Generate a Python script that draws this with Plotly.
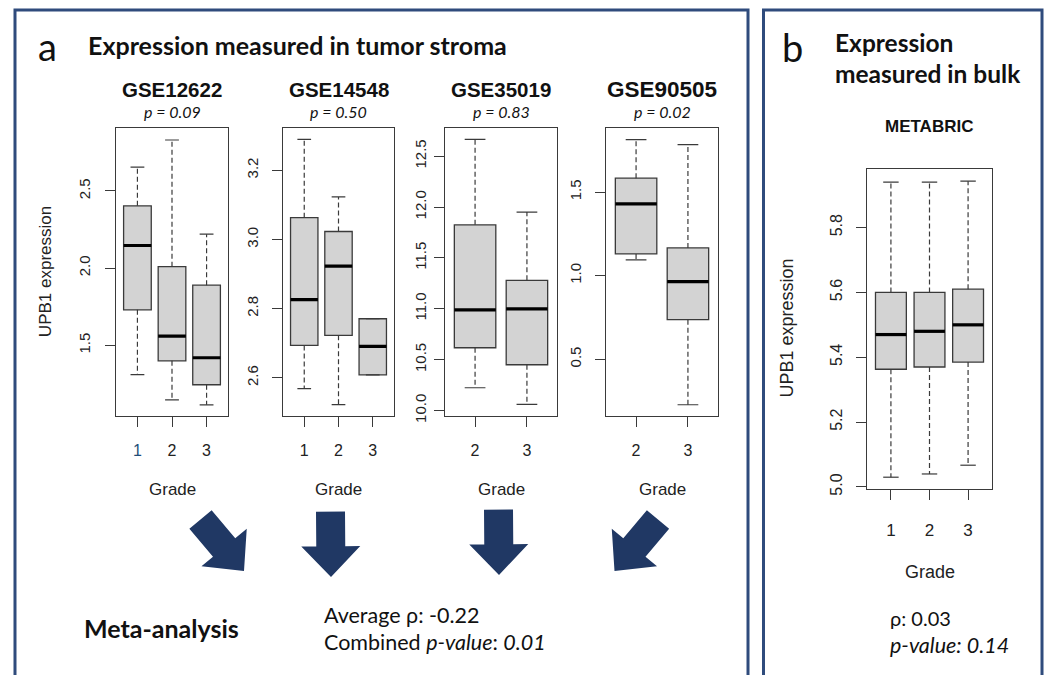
import plotly.graph_objects as go

W, H = 1046, 675

# ---------------- data ----------------
datasets = ["GSE12622", "GSE14548", "GSE35019", "GSE90505"]
pvals = ["0.09", "0.50", "0.83", "0.02"]
grades_a = [["1", "2", "3"], ["1", "2", "3"], ["2", "3"], ["2", "3"]]

gse12622_low = [1.31, 1.147, 1.115]
gse12622_q1 = [1.73, 1.40, 1.245]
gse12622_med = [2.147, 1.56, 1.42]
gse12622_q3 = [2.404, 2.01, 1.89]
gse12622_high = [2.654, 2.83, 2.22]

gse14548_low = [2.569, 2.523, 2.609]
gse14548_q1 = [2.694, 2.723, 2.609]
gse14548_med = [2.826, 2.923, 2.691]
gse14548_q3 = [3.063, 3.023, 2.771]
gse14548_high = [3.289, 3.123, 2.771]

gse35019_low = [10.224, 10.06]
gse35019_q1 = [10.617, 10.45]
gse35019_med = [10.99, 11.0]
gse35019_q3 = [11.825, 11.28]
gse35019_high = [12.665, 11.95]

gse90505_low = [1.095, 0.228]
gse90505_q1 = [1.13, 0.737]
gse90505_med = [1.429, 0.964]
gse90505_q3 = [1.583, 1.166]
gse90505_high = [1.814, 1.784]

grades_b = ["1", "2", "3"]
metabric_low = [5.03, 5.04, 5.067]
metabric_q1 = [5.363, 5.37, 5.385]
metabric_med = [5.47, 5.48, 5.50]
metabric_q3 = [5.60, 5.60, 5.61]
metabric_high = [5.94, 5.94, 5.943]

yticks_12622 = [1.5, 2.0, 2.5]
yticks_14548 = [2.6, 2.8, 3.0, 3.2]
yticks_35019 = [10.0, 10.5, 11.0, 11.5, 12.0, 12.5]
yticks_90505 = [0.5, 1.0, 1.5]
yticks_metabric = [5.0, 5.2, 5.4, 5.6, 5.8]

meta_rho = "-0.22"
meta_p = "0.01"
bulk_rho = "0.03"
bulk_p = "0.14"

# ---------------- helpers ----------------
def px(x):
    return x / W

def py(y):
    return 1 - y / H

BOX_FILL = "#D3D3D3"
LINE = "#3a3a3a"
NAVY = "#203864"
BORDER = "#2F4B7C"

fig = go.Figure()

panels = [
    dict(low=gse12622_low, q1=gse12622_q1, med=gse12622_med, q3=gse12622_q3, high=gse12622_high,
         grades=grades_a[0], yt=yticks_12622, yr=[1.045, 2.91], dom=[116, 228], top=129, bot=420,
         ysoff=9, xsoff=10),
    dict(low=gse14548_low, q1=gse14548_q1, med=gse14548_med, q3=gse14548_q3, high=gse14548_high,
         grades=grades_a[1], yt=yticks_14548, yr=[2.491, 3.323], dom=[283, 394], top=129, bot=420,
         ysoff=8, xsoff=10),
    dict(low=gse35019_low, q1=gse35019_q1, med=gse35019_med, q3=gse35019_q3, high=gse35019_high,
         grades=grades_a[2], yt=yticks_35019, yr=[9.95, 12.78], dom=[445, 557], top=129, bot=420,
         ysoff=2, xsoff=10),
    dict(low=gse90505_low, q1=gse90505_q1, med=gse90505_med, q3=gse90505_q3, high=gse90505_high,
         grades=grades_a[3], yt=yticks_90505, yr=[0.163, 1.885], dom=[606, 718], top=129, bot=420,
         ysoff=8, xsoff=10),
    dict(low=metabric_low, q1=metabric_q1, med=metabric_med, q3=metabric_q3, high=metabric_high,
         grades=grades_b, yt=yticks_metabric, yr=[4.994, 5.98], dom=[867, 992], top=171, bot=494,
         ysoff=8, xsoff=16),
]

layout_axes = {}
for i, p in enumerate(panels):
    n = len(p["grades"])
    pos = list(range(1, n + 1))
    xa = "x" if i == 0 else f"x{i+1}"
    ya = "y" if i == 0 else f"y{i+1}"
    # boxes
    fig.add_trace(go.Box(
        x=pos, q1=p["q1"], median=p["med"], q3=p["q3"],
        lowerfence=p["q1"], upperfence=p["q3"],
        width=0.8, fillcolor=BOX_FILL, line=dict(color=LINE, width=1.3),
        whiskerwidth=0, boxpoints=False, hoverinfo="skip",
        xaxis=xa, yaxis=ya, showlegend=False))
    # dashed whiskers, staples, medians
    wx, wy, sx, sy, mx, my = [], [], [], [], [], []
    for k, xp in enumerate(pos):
        wx += [xp, xp, None, xp, xp, None]
        wy += [p["q3"][k], p["high"][k], None, p["q1"][k], p["low"][k], None]
        sx += [xp - 0.2, xp + 0.2, None, xp - 0.2, xp + 0.2, None]
        sy += [p["high"][k], p["high"][k], None, p["low"][k], p["low"][k], None]
        mx += [xp - 0.4, xp + 0.4, None]
        my += [p["med"][k], p["med"][k], None]
    fig.add_trace(go.Scatter(x=wx, y=wy, mode="lines", line=dict(color=LINE, width=1.2, dash="5px,3px"),
                             hoverinfo="skip", xaxis=xa, yaxis=ya, showlegend=False))
    fig.add_trace(go.Scatter(x=sx, y=sy, mode="lines", line=dict(color=LINE, width=1.2),
                             hoverinfo="skip", xaxis=xa, yaxis=ya, showlegend=False))
    fig.add_trace(go.Scatter(x=mx, y=my, mode="lines", line=dict(color="black", width=3.2),
                             hoverinfo="skip", xaxis=xa, yaxis=ya, showlegend=False))

    fs = 16 if i == 4 else 15
    ticktext = list(p["grades"])
    if i == 0:
        ticktext[0] = "<span style='color:#1F4E79'>1</span>"
    xkey = "xaxis" if i == 0 else f"xaxis{i+1}"
    ykey = "yaxis" if i == 0 else f"yaxis{i+1}"
    layout_axes[xkey] = dict(
        domain=[px(p["dom"][0]), px(p["dom"][1])], anchor=ya,
        range=[0.5 - 0.04 * n, n + 0.5 + 0.04 * n],
        tickmode="array", tickvals=pos, ticktext=ticktext,
        ticks="outside", ticklen=10, tickcolor=LINE, tickwidth=1,
        showline=True, mirror=True, linecolor=LINE, linewidth=1.2,
        showgrid=False, zeroline=False, fixedrange=True,
        tickfont=dict(family="Liberation Sans", size=fs + 1, color="#222"),
        ticklabelstandoff=p["xsoff"])
    layout_axes[ykey] = dict(
        domain=[py(p["bot"]), py(p["top"])], anchor=xa,
        range=p["yr"], tickmode="array", tickvals=p["yt"],
        ticktext=[f"{v:.1f}" for v in p["yt"]], tickangle=-90,
        ticks="outside", ticklen=10, tickcolor=LINE, tickwidth=1,
        showline=True, mirror=True, linecolor=LINE, linewidth=1.2,
        showgrid=False, zeroline=False, fixedrange=True,
        tickfont=dict(family="Liberation Sans", size=fs, color="#222"),
        ticklabelstandoff=p["ysoff"])

# ---------------- annotations ----------------
ann = []

def text(x, y, s, size, family="Lato", color="#111", xanchor="center", yanchor="middle", angle=0):
    ann.append(dict(x=px(x), y=py(y), xref="paper", yref="paper", text=s, showarrow=False,
                    font=dict(family=family, size=size, color=color),
                    xanchor=xanchor, yanchor=yanchor, textangle=angle))

text(47, 46, "a", 38)
text(86, 45, "<b>Expression measured in tumor stroma</b>", 25, xanchor="left")
centers = [172, 338.5, 501, 662]
title_sizes = [20.5, 20.5, 20.5, 22.5]
for c, name, pv, ts in zip(centers, datasets, pvals, title_sizes):
    text(c, 90, f"<b>{name}</b>", ts, family="Liberation Sans")
    text(c, 113, f"<i>p = {pv}</i>", 16)
    text(c, 495, "Grade", 17, family="Liberation Sans", color="#222")
text(45, 275, "UPB1 expression", 17, family="Liberation Sans", color="#222", angle=-90)
text(82, 635, "<b>Meta-analysis</b>", 25, xanchor="left")
text(322, 621, f"Average ρ: {meta_rho}", 21.5, xanchor="left")
text(322, 649, f"Combined <i>p-value</i>: <i>{meta_p}</i>", 21.5, xanchor="left")

text(792, 47, "b", 38)
text(833, 43, "<b>Expression</b>", 24.5, xanchor="left")
text(833, 74, "<b>measured in bulk</b>", 24.5, xanchor="left")
text(929, 128, "<b>METABRIC</b>", 17, family="Liberation Sans")
text(787, 332, "UPB1 expression", 18, family="Liberation Sans", color="#222", angle=-90)
text(930, 578, "Grade", 18, family="Liberation Sans", color="#222")
text(888, 624, f"ρ: {bulk_rho}", 20, xanchor="left")
text(888, 652, f"<i>p-value: {bulk_p}</i>", 21.5, xanchor="left")

# ---------------- decorative shapes ----------------
shapes = []

def pathstr(points):
    return "M " + " L ".join(f"{px(x):.5f},{py(y):.5f}" for x, y in points) + " Z"

def block_arrow(tail, tip, shaft_w=29, head_w=59, head_l=31):
    import math
    dx, dy = tip[0] - tail[0], tip[1] - tail[1]
    L = math.hypot(dx, dy)
    ux, uy = dx / L, dy / L
    nx, ny = -uy, ux
    bx, by = tip[0] - ux * head_l, tip[1] - uy * head_l
    pts = [
        (tail[0] + nx * shaft_w / 2, tail[1] + ny * shaft_w / 2),
        (bx + nx * shaft_w / 2, by + ny * shaft_w / 2),
        (bx + nx * head_w / 2, by + ny * head_w / 2),
        tip,
        (bx - nx * head_w / 2, by - ny * head_w / 2),
        (bx - nx * shaft_w / 2, by - ny * shaft_w / 2),
        (tail[0] - nx * shaft_w / 2, tail[1] - ny * shaft_w / 2),
    ]
    return dict(type="path", path=pathstr(pts), xref="paper", yref="paper",
                fillcolor=NAVY, line=dict(width=0))

shapes.append(block_arrow((200.5, 525), (244, 577)))
shapes.append(block_arrow((330.5, 517), (331, 583)))
shapes.append(block_arrow((498.5, 515), (499, 581)))
shapes.append(block_arrow((658, 525), (614.5, 577)))

for x0, x1 in [(15, 748), (763.5, 1042)]:
    shapes.append(dict(type="path", xref="paper", yref="paper",
                       path=f"M {px(x0):.5f},{py(690):.5f} L {px(x0):.5f},{py(10):.5f} L {px(x1):.5f},{py(10):.5f} L {px(x1):.5f},{py(690):.5f}",
                       line=dict(color=BORDER, width=3)))

fig.update_layout(
    width=W, height=H, autosize=False,
    margin=dict(l=0, r=0, t=0, b=0),
    paper_bgcolor="white", plot_bgcolor="white",
    showlegend=False, annotations=ann, shapes=shapes,
    **layout_axes)

fig.write_html("out.html", config={"displayModeBar": False})
